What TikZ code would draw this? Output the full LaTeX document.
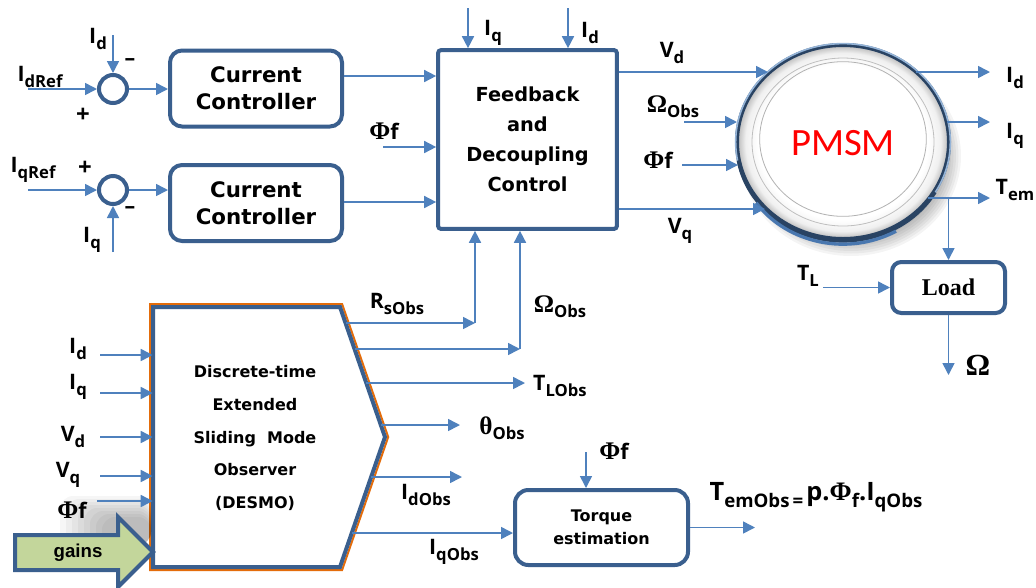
\documentclass[tikz,border=0pt]{standalone}
\usepackage{fontspec}
\usetikzlibrary{arrows.meta,shapes.geometric,calc}
\newfontfamily\labfont{Open Sans}
\newfontfamily\serf{Liberation Serif}
\newfontfamily\dvs{DejaVu Sans}
\newfontfamily\carl{Carlito}
\newfontfamily\arialf{Liberation Sans}
\definecolor{lblue}{HTML}{4F81BD}
\definecolor{dblue}{HTML}{3A5F8E}
\definecolor{orng}{HTML}{E46C0A}
\definecolor{gfill}{HTML}{C3D69B}
\pgfdeclareradialshading{ringshade}{\pgfpoint{0bp}{0bp}}{color(0bp)=(white); color(20bp)=(white); color(23bp)=(black!6); color(25bp)=(black!28); color(50bp)=(black!28)}
\newcommand\subx[1]{{\fontsize{12.5}{12.5}\selectfont\raisebox{-4pt}{#1}}}
\newcommand\Lab[2]{{\fontsize{16}{16}\selectfont #1}\subx{#2}}
\newcommand\PhiS{{\serf\bfseries\fontsize{19}{19}\selectfont Φ}}
\newcommand\OmS{{\serf\bfseries\fontsize{19}{19}\selectfont Ω}}
\newcommand\thS{{\serf\bfseries\fontsize{19}{19}\selectfont θ}}
\newcommand\PhiF{\PhiS{\fontsize{16}{16}\selectfont f}}
\begin{document}
\begin{tikzpicture}[x=0.75pt,y=-0.75pt,
  conn/.style={draw=lblue,line width=1.2pt},
  arr/.style={conn,-{Triangle[length=9pt,width=9pt]}},
  lab/.style={font=\labfont\bfseries,inner sep=0pt,text=black},
  ctrlbox/.style={rectangle,rounded corners=9pt,draw=dblue,line width=3pt,fill=white,align=center,
    font=\dvs\bfseries\fontsize{16}{20}\selectfont,minimum width=129pt,minimum height=57pt,inner sep=0pt},
  fdcbox/.style={rectangle,rounded corners=2pt,draw=dblue,line width=3pt,fill=white,align=center,
    font=\dvs\bfseries\fontsize{14.5}{22.5}\selectfont,minimum width=134pt,minimum height=134pt,inner sep=0pt},
  loadbox/.style={rectangle,rounded corners=7pt,draw=dblue,line width=3pt,fill=white,
    font=\serf\bfseries\fontsize{18}{18}\selectfont,minimum width=84.75pt,minimum height=38.25pt,inner sep=0pt},
  torqbox/.style={rectangle,rounded corners=10pt,draw=dblue,line width=3pt,fill=white,align=center,
    font=\dvs\bfseries\fontsize{12}{17}\selectfont,minimum width=129.75pt,minimum height=56.25pt,inner sep=0pt},
  sumc/.style={circle,draw=dblue,line width=3pt,minimum size=21pt,inner sep=0pt,fill=white},
  desmotext/.style={align=center,font=\dvs\bfseries\fontsize{12}{24.4}\selectfont,inner sep=0pt},
]
\useasboundingbox (0,0) rectangle (1036,587);
\fill[white] (0,0) rectangle (1036,587);

% ---------- blocks ----------
\node[sumc] (s1) at (113,89) {};
\node[sumc] (s2) at (113,190) {};
\node[ctrlbox] (cc1) at (256,88.5) {Current\\Controller};
\node[ctrlbox] (cc2) at (256,203) {Current\\Controller};
\node[fdcbox] (fdc) at (527.5,139.5) {Feedback\\and\\Decoupling\\Control};
\node[loadbox] (load) at (948.5,287.5) {Load};
\node[torqbox] (te) at (601.5,527.5) {Torque\\estimation};

% ---------- PMSM ----------
\foreach \k in {0,...,7}
  \fill[black,opacity=0.045] (851,156) ellipse [x radius={(110-\k*2.5)*0.75pt}, y radius={(100-\k*2.5)*0.75pt}];
\node[ellipse,shade,shading=ringshade,draw=dblue!70!black,line width=3pt,minimum width=159pt,minimum height=145.5pt,inner sep=0pt] (pmsm) at (843,142) {};
\draw[lblue!60,line width=1.2pt] (843,142) ellipse [x radius=80.5pt, y radius=73.8pt];
\draw[dblue!70!black,line width=3pt] (843,142) ++(190:79.5pt) arc [start angle=190, end angle=330, x radius=79.5pt, y radius=72.75pt];
\draw[lblue!70!dblue,line width=2.5pt] (843,142) ++(215:79.5pt) arc [start angle=215, end angle=300, x radius=79.5pt, y radius=72.75pt];
\draw[black!25,line width=0.6pt] (843,142) ellipse [x radius=68.25pt, y radius=63pt];
\draw[black!30,line width=0.6pt] (843,139) ellipse [x radius=62.5pt, y radius=58pt];
\node[font=\carl\fontsize{29}{29}\selectfont,inner sep=0pt,text=red] (pmsmtxt) at (843,143) {PMSM};

% ---------- DESMO ----------
\fill[white] (153,307) -- (340,307) -- (385,437) -- (340,567) -- (153,567) -- cycle;
\draw[orng,line width=1.5pt] (150,304) -- (342.1,304) -- (388.2,437) -- (342.1,570) -- (150,570) -- cycle;
\draw[dblue,line width=3pt] (153,307) -- (340,307) -- (385,437) -- (340,567) -- (153,567) -- cycle;
\node[minimum width=140.25pt,minimum height=195pt,inner sep=0pt] (desmo) at (246.5,437) {};
\node[desmotext] (dtxt) at (255,438) {Discrete-time\\Extended\\Sliding~~Mode\\Observer\\(DESMO)};

% ---------- gains arrow ----------
\foreach \k in {0,...,7}
  \fill[black,opacity=0.035,rounded corners=10pt] ({60+\k*6},{496+\k*3}) rectangle (151,545);
\draw[dblue,line width=3pt,fill=gfill,line join=miter] (15,535) -- (118,535) -- (118,517) -- (153,552) -- (118,587) -- (118,570) -- (15,570) -- cycle;
\node[font=\arialf\bfseries\fontsize{14}{14}\selectfont,inner sep=0pt] (gains) at (78,553) {gains};

% ---------- connectors: left part ----------
\coordinate (idref) at (28,89);
\draw[arr] (idref) -- (s1.west);
\coordinate (idin) at (113,35);
\draw[arr] (idin) -- (s1.north);
\draw[arr] (s1.east) -- (cc1.west |- s1.east);
\coordinate (iqref) at (28,190);
\draw[arr] (iqref) -- (s2.west);
\coordinate (iqin) at (113,252);
\draw[arr] (iqin) -- (s2.south);
\draw[arr] (s2.east) -- (cc2.west |- s2.east);

\coordinate (y76) at (0,76);
\coordinate (y202) at (0,202);
\draw[arr] (cc1.east |- y76) -- (fdc.west |- y76);
\draw[arr] (cc2.east |- y202) -- (fdc.west |- y202);
\coordinate (phiA) at (383,147);
\draw[arr] (phiA) -- (fdc.west |- phiA);
\coordinate (iqB) at (468,8);
\draw[arr] (iqB) -- (fdc.north -| iqB);
\coordinate (idB) at (568,8);
\draw[arr] (idB) -- (fdc.north -| idB);

% ---------- connectors: PMSM ----------
\coordinate (vdP) at (768,72);
\draw[arr] (fdc.east |- vdP) -- (vdP);
\coordinate (omA) at (684,122);
\coordinate (omP) at (737,122);
\draw[arr] (omA) -- (omP);
\coordinate (phB) at (682,165);
\coordinate (phP) at (738,165);
\draw[arr] (phB) -- (phP);
\coordinate (vqP) at (765,209);
\draw[arr] (fdc.east |- vqP) -- (vqP);

\coordinate (idO0) at (916,72);
\coordinate (idO) at (990,72);
\draw[arr] (idO0) -- (idO);
\coordinate (iqO0) at (947,122);
\coordinate (iqO) at (990,122);
\draw[arr] (iqO0) -- (iqO);
\coordinate (temO0) at (928,198);
\coordinate (temO) at (990,198);
\draw[arr] (temO0) -- (temO);
\draw[arr] (load.north |- temO) -- (load.north);
\coordinate (tlA) at (823,287.5);
\draw[arr] (tlA) -- (load.west);
\coordinate (omB) at (948.5,375);
\draw[arr] (load.south) -- (omB);

% ---------- connectors: DESMO ----------
\coordinate (dId) at (100,355);
\coordinate (dIq) at (100,393);
\coordinate (dVd) at (100,437);
\coordinate (dVq) at (100,476);
\coordinate (dPh) at (97,501);
\foreach \c in {dId,dIq,dVd,dVq,dPh} \draw[arr] (\c) -- (desmo.west |- \c);

\coordinate (rA) at (345.5,323);
\coordinate (rB) at (475,323);
\draw[arr] (rA) -- (rB);
\draw[arr] (rB) -- (fdc.south -| rB);
\coordinate (oA) at (354.5,349);
\coordinate (oB) at (520,349);
\draw[arr] (oA) -- (oB);
\draw[arr] (oB) -- (fdc.south -| oB);
\coordinate (tA) at (366,383);
\coordinate (tB) at (525,383);
\draw[arr] (tA) -- (tB);
\coordinate (thA) at (381,425);
\coordinate (thB) at (460,425);
\draw[arr] (thA) -- (thB);
\coordinate (idA) at (371,477);
\coordinate (idC) at (462,477);
\draw[arr] (idA) -- (idC);
\coordinate (iqA) at (352,533);
\draw[arr] (iqA) -- (te.west |- iqA);
\coordinate (pfA) at (586,452);
\draw[arr] (pfA) -- (te.north -| pfA);
\coordinate (teO) at (755,527.5);
\draw[arr] (te.east) -- (teO);

% ---------- labels ----------
\node[lab] (l1) at (98,39) {\Lab{I}{d}};
\node[lab,font=\labfont\bfseries\fontsize{16}{16}\selectfont] (l2) at (130,62) {–};
\node[lab] (l3) at (40,77) {\Lab{I}{dRef}};
\node[lab,font=\labfont\bfseries\fontsize{18}{18}\selectfont] (l4) at (83,115) {+};
\node[lab] (l5) at (33,170) {\Lab{I}{qRef}};
\node[lab,font=\labfont\bfseries\fontsize{18}{18}\selectfont] (l6) at (85,168) {+};
\node[lab,font=\labfont\bfseries\fontsize{16}{16}\selectfont] (l7) at (130,210) {–};
\node[lab] (l8) at (92,240) {\Lab{I}{q}};
\node[lab] (l9) at (384,131) {\PhiF};
\node[lab] (l10) at (493,33) {\Lab{I}{q}};
\node[lab] (l11) at (590,33) {\Lab{I}{d}};
\node[lab] (l12) at (672,53) {\Lab{V}{d}};
\node[lab] (l13) at (673,107) {\Lab{\OmS}{Obs}};
\node[lab] (l14) at (658,160) {\PhiF};
\node[lab] (l15) at (680,231) {\Lab{V}{q}};
\node[lab] (l16) at (1015,78) {\Lab{I}{d}};
\node[lab] (l17) at (1015,136) {\Lab{I}{q}};
\node[lab] (l18) at (1015,190) {\Lab{T}{em}};
\node[lab] (l19) at (808,276) {\Lab{T}{L}};
\node[lab,font=\serf\bfseries\fontsize{23}{23}\selectfont] (l20) at (978,365) {Ω};
\node[lab] (l21) at (78,349) {\Lab{I}{d}};
\node[lab] (l22) at (78,387) {\Lab{I}{q}};
\node[lab] (l23) at (73,437) {\Lab{V}{d}};
\node[lab] (l24) at (68,475) {\Lab{V}{q}};
\node[lab] (l25) at (72,510) {\PhiF};
\node[lab] (l26) at (397,304) {\Lab{R}{sObs}};
\node[lab] (l27) at (560,307) {\Lab{\OmS}{Obs}};
\node[lab] (l28) at (560,386) {\Lab{T}{LObs}};
\node[lab] (l29) at (502,428) {\Lab{\thS}{Obs}};
\node[lab] (l30) at (426,495) {\Lab{I}{dObs}};
\node[lab] (l31) at (454,552) {\Lab{I}{qObs}};
\node[lab] (l32) at (614,451) {\PhiF};
\node[lab] (l33) at (816,497) {{\fontsize{19}{19}\selectfont T}{\fontsize{14}{14}\selectfont\raisebox{-5pt}{emObs\,=\,}}{\fontsize{19}{19}\selectfont p.}{\serf\bfseries\fontsize{20}{20}\selectfont Φ}{\fontsize{14}{14}\selectfont\raisebox{-5pt}{f}}{\fontsize{19}{19}\selectfont .I}{\fontsize{14}{14}\selectfont\raisebox{-5pt}{qObs}}};
\end{tikzpicture}
\end{document}
